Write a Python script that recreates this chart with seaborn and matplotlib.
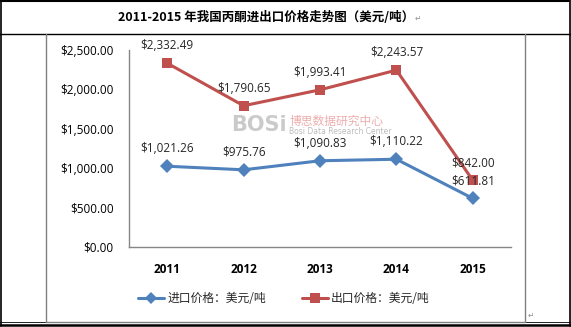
import matplotlib
matplotlib.use("Agg")
import matplotlib.pyplot as plt
import seaborn as sns
import pandas as pd
from matplotlib.lines import Line2D

years = ["2011", "2012", "2013", "2014", "2015"]
import_price = [1021.26, 975.76, 1090.83, 1110.22, 611.81]
export_price = [2332.49, 1790.65, 1993.41, 2243.57, 842.00]
series_names = ["进口价格：美元/吨", "出口价格：美元/吨"]
title = "2011-2015 年我国丙酮进出口价格走势图（美元/吨）"
yticks = [0, 500, 1000, 1500, 2000, 2500]

sns.set_style("white")
plt.rcParams['font.family'] = ['Noto Sans CJK SC', 'DejaVu Sans']

df = pd.DataFrame({
    "year": years * 2,
    "price": import_price + export_price,
    "series": [series_names[0]] * 5 + [series_names[1]] * 5,
})

W, H = 571, 327
fig = plt.figure(figsize=(W / 100, H / 100), dpi=100)

def fx(x): return x / W
def fy(y): return 1 - y / H

# table frame
black = "#000000"
grey = "#808080"
fig.add_artist(Line2D([fx(1), fx(569)], [fy(0.5), fy(0.5)], color=black, lw=1.5))
fig.add_artist(Line2D([fx(1), fx(1)], [fy(0), fy(326)], color=black, lw=1.2))
fig.add_artist(Line2D([fx(569.5), fx(569.5)], [fy(0), fy(326)], color=black, lw=1.2))
fig.add_artist(Line2D([fx(0), fx(571)], [fy(33.5), fy(33.5)], color=black, lw=1.0))
fig.add_artist(Line2D([fx(0), fx(571)], [fy(322), fy(322)], color=black, lw=0.6))
fig.add_artist(Line2D([fx(0), fx(571)], [fy(325), fy(325)], color=black, lw=1.8))
# chart frame
fig.add_artist(Line2D([fx(45.5), fx(45.5)], [fy(34), fy(322)], color=grey, lw=1.0))
fig.add_artist(Line2D([fx(525), fx(525)], [fy(34), fy(322)], color=grey, lw=1.0))
fig.add_artist(Line2D([fx(45.5), fx(525)], [fy(321.5), fy(321.5)], color=grey, lw=1.0))

fig.text(fx(266), fy(17), title, ha="center", va="center", fontsize=9,
         fontweight="bold", color="#000000")
fig.text(fx(418), fy(18), "↵", ha="center", va="center", fontsize=5.5,
         color="#909090", family=["DejaVu Sans"])
fig.text(fx(531), fy(315), "↵", ha="center", va="center", fontsize=5.5,
         color="#909090", family=["DejaVu Sans"])

ax = fig.add_axes([fx(129), fy(246.5), (511 - 129) / W, (246.5 - 50) / H])

palette = {series_names[0]: "#4F81BD", series_names[1]: "#C0504D"}
markers = {series_names[0]: "D", series_names[1]: "s"}
sns.lineplot(data=df, x="year", y="price", hue="series", style="series",
             palette=palette, markers=markers, dashes=False, lw=2.2,
             markersize=7, markeredgewidth=0, ax=ax, legend=False, sort=False)

# watermark
ax.text(1.57, 1546, "BOSi", ha="right", va="center", fontsize=15, fontweight="bold",
        color="#a8a8a8", alpha=0.6, family=["DejaVu Sans"], zorder=0)
ax.text(1.6, 1590, "博思数据研究中心", ha="left", va="center", fontsize=8.5,
        color="#e07878", alpha=0.6, zorder=0)
ax.text(1.6, 1460, "Bosi Data Research Center", ha="left", va="center", fontsize=5.5,
        color="#a0a0a0", alpha=0.7, zorder=0, family=["DejaVu Sans"])

ax.set_xlim(-0.5, 4.5)
ax.set_ylim(0, 2500)
ax.set_yticks(yticks)
ax.set_yticklabels([f"${v:,.2f}" for v in yticks], fontsize=8.5, color="#000000",
                   family=["Open Sans", "DejaVu Sans"])
ax.set_xticks(range(len(years)))
ax.set_xticklabels(years, fontsize=8.5, fontweight="bold", color="#000000",
                   family=["Open Sans", "DejaVu Sans"])
ax.tick_params(axis="y", length=0, pad=11)
ax.tick_params(axis="x", length=0, pad=12)
ax.set_xlabel("")
ax.set_ylabel("")
for s in ["top", "right"]:
    ax.spines[s].set_visible(False)
for s in ["left", "bottom"]:
    ax.spines[s].set_color("#868686")
    ax.spines[s].set_linewidth(1.0)

for i, v in enumerate(import_price):
    ax.annotate(f"${v:,.2f}", (i, v), xytext=(0, 8), textcoords="offset points",
                ha="center", va="bottom", fontsize=8.5, family=["Open Sans", "DejaVu Sans"])
for i, v in enumerate(export_price):
    ax.annotate(f"${v:,.2f}", (i, v), xytext=(0, 8), textcoords="offset points",
                ha="center", va="bottom", fontsize=8.5, family=["Open Sans", "DejaVu Sans"])

# legend
handles = [Line2D([0], [0], color=palette[n], marker=markers[n], lw=2.2,
                  markersize=6 if markers[n] == "D" else 7, markeredgewidth=0)
           for n in series_names]
fig.legend(handles, series_names, loc="center", bbox_to_anchor=(fx(284), fy(299)),
           ncol=2, frameon=False, fontsize=8.5, handlelength=2.2, handletextpad=0.3,
           columnspacing=3.0)

fig.savefig("out.png", dpi=100)
